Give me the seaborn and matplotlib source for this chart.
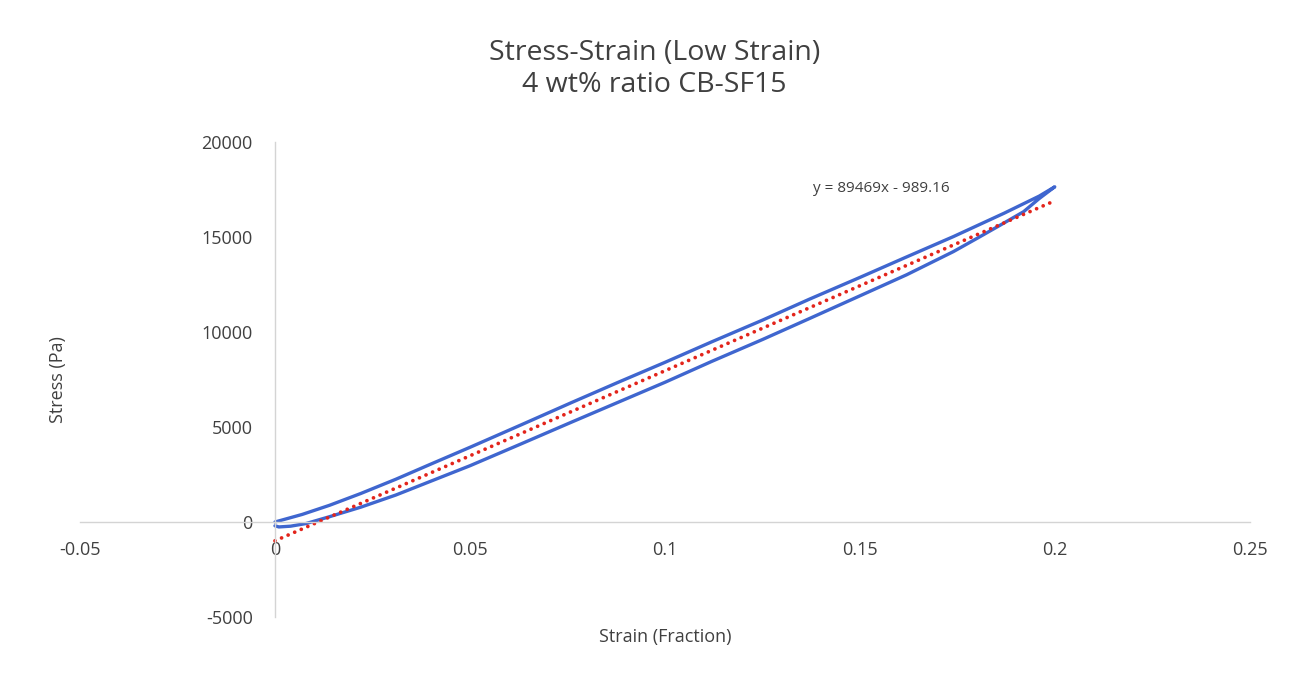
import numpy as np
import pandas as pd
import matplotlib
matplotlib.use("Agg")
import matplotlib.pyplot as plt
import seaborn as sns

# Loading branch (strain, stress in Pa)
load_strain = [0.0, 0.007, 0.014, 0.022, 0.031, 0.040, 0.050, 0.063, 0.076, 0.088, 0.100,
               0.112, 0.125, 0.137, 0.150, 0.162, 0.174, 0.187, 0.196, 0.200]
load_stress = [0, 400, 880, 1500, 2250, 3050, 3930, 5100, 6280, 7350, 8400,
               9480, 10620, 11720, 12870, 13950, 15020, 16250, 17150, 17640]

# Unloading branch back to zero strain
unload_strain = [0.200, 0.196, 0.192, 0.186, 0.180, 0.174, 0.162, 0.150, 0.137, 0.125, 0.112,
                 0.100, 0.088, 0.076, 0.063, 0.050, 0.040, 0.031, 0.022, 0.014, 0.008, 0.004,
                 0.001, 0.0]
unload_stress = [17640, 17020, 16330, 15620, 14920, 14230, 13010, 11900, 10700, 9600, 8450,
                 7350, 6300, 5250, 4100, 2960, 2150, 1420, 780, 280, -80, -220,
                 -260, -200]

# Linear trendline coefficients
slope = 89469
intercept = -989.16
fit_strain = [0.0, 0.2]

x_ticks = [-0.05, 0, 0.05, 0.1, 0.15, 0.2, 0.25]
x_tick_labels = ["-0.05", "0", "0.05", "0.1", "0.15", "0.2", "0.25"]
y_ticks = [-5000, 0, 5000, 10000, 15000, 20000]
y_tick_labels = ["-5000", "0", "5000", "10000", "15000", "20000"]

sns.set_theme(style="white")
plt.rcParams["font.family"] = ["Open Sans", "DejaVu Sans"]

loop = pd.DataFrame({
    "strain": load_strain + unload_strain,
    "stress": load_stress + unload_stress,
})
fit = pd.DataFrame({
    "strain": fit_strain,
    "stress": [slope * s + intercept for s in fit_strain],
})

fig = plt.figure(figsize=(12.91, 6.79), dpi=100)
ax = fig.add_axes([0.062, 0.0913, 0.906, 0.6996])

sns.lineplot(data=loop, x="strain", y="stress", sort=False, estimator=None,
             color="#3f66cf", linewidth=2.4, ax=ax)
sns.lineplot(data=fit, x="strain", y="stress", estimator=None, color="#e3241b",
             linewidth=2.7, linestyle=(0, (0.01, 1.9)), dash_capstyle="round", ax=ax)

ax.set_xlim(-0.05, 0.25)
ax.set_ylim(-5000, 20000)
ax.set_xticks(x_ticks)
ax.set_xticklabels(x_tick_labels)
ax.set_yticks(y_ticks)
ax.set_yticklabels(y_tick_labels)

for side in ("top", "right"):
    ax.spines[side].set_visible(False)
ax.spines["left"].set_position(("data", 0))
ax.spines["bottom"].set_position(("data", 0))
for side in ("left", "bottom"):
    ax.spines[side].set_color("#d4d4d4")
    ax.spines[side].set_linewidth(1.0)

ax.tick_params(axis="both", length=0, labelsize=13, labelcolor="#404040")
ax.tick_params(axis="x", pad=14)
ax.tick_params(axis="y", pad=16)

ax.set_xlabel("Strain (Fraction)", fontsize=13, color="#404040")
ax.set_ylabel("Stress (Pa)", fontsize=13, color="#404040")
ax.xaxis.set_label_coords(0.5, -0.024)
ax.yaxis.set_label_coords(-0.0115, 0.5)

ax.text(0.138, 17550, f"y = {slope}x - {abs(intercept):.2f}", fontsize=11,
        color="#404040", va="center", ha="left")

fig.text(0.507, 0.898, "Stress-Strain (Low Strain)\n4 wt% ratio CB-SF15",
         ha="center", va="center", fontsize=20.5, color="#404040", linespacing=1.18)

fig.savefig("out.png", dpi=100, facecolor="white")
